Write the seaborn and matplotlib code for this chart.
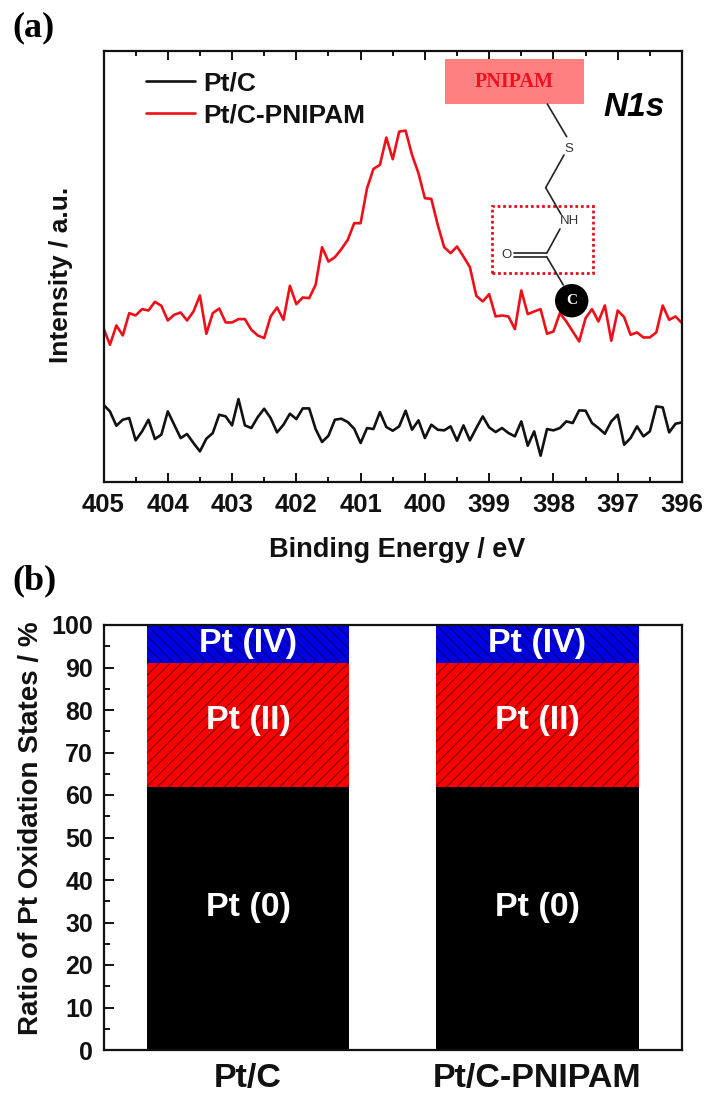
#Importing needed Libraries
import numpy as np
import pandas as pd
import matplotlib
matplotlib.use('Agg')
import matplotlib.pyplot as plt
from matplotlib.lines import Line2D
from matplotlib.patches import Rectangle, Ellipse
import seaborn as sns

#DATA
#_________________________________
energy = [round(405 - 0.1 * i, 1) for i in range(91)]

pt_c = [232, 212, 169, 187, 192, 125, 152, 187, 129, 142, 212, 172, 132, 144, 117, 92,
        130, 147, 202, 197, 170, 249, 170, 162, 195, 220, 192, 149, 172, 205, 189, 221,
        221, 159, 120, 139, 187, 190, 180, 160, 117, 162, 159, 210, 165, 154, 167, 214,
        157, 185, 132, 172, 157, 155, 167, 124, 170, 125, 162, 197, 164, 150, 162, 147,
        137, 182, 109, 152, 79, 159, 155, 162, 182, 177, 215, 214, 177, 162, 145, 182,
        202, 112, 132, 167, 137, 152, 227, 224, 149, 175, 179]

pt_c_pnipam = [462, 412, 470, 440, 507, 500, 519, 515, 541, 529, 485, 502, 509, 485, 512, 560,
               445, 507, 521, 479, 479, 489, 489, 457, 440, 432, 497, 524, 487, 589, 534, 554,
               552, 592, 705, 662, 675, 699, 727, 777, 777, 882, 940, 952, 1034, 969, 1052, 1055,
               982, 927, 852, 850, 772, 705, 687, 707, 677, 645, 559, 542, 564, 497, 500, 497,
               459, 575, 504, 512, 519, 445, 452, 507, 482, 452, 422, 492, 519, 482, 530, 424,
               515, 495, 442, 449, 434, 434, 449, 530, 487, 497, 477]

samples = ['Pt/C', 'Pt/C-PNIPAM']
pt0 = [62, 61.8]
pt2 = [29, 29.2]
pt4 = [9, 9]

W, H = 708, 1093

#FUNCTIONS
#_________________________________
def fx(x):
    return x / W

def fy(y):
    return 1 - y / H

def axes_box(left, top, right, bottom):
    return [fx(left), fy(bottom), (right - left) / W, (bottom - top) / H]

def bond(x0, y0, x1, y1, lw=1.2):
    fig.add_artist(Line2D([fx(x0), fx(x1)], [fy(y0), fy(y1)], color='#222222', lw=lw))

#FIGURE
#_________________________________
sns.set_theme(style='ticks')
plt.rcParams['font.family'] = ['Liberation Sans', 'DejaVu Sans']
plt.rcParams['font.weight'] = 'bold'
plt.rcParams['hatch.linewidth'] = 0.8

fig = plt.figure(figsize=(7.08, 10.93), dpi=100)
ax1 = fig.add_axes(axes_box(103.5, 51, 682, 482))
ax2 = fig.add_axes(axes_box(103.5, 625, 682, 1050))

#Panel a, spectra
df = pd.DataFrame({'energy': energy * 2,
                   'intensity': pt_c + pt_c_pnipam,
                   'sample': ['Pt/C'] * 91 + ['Pt/C-PNIPAM'] * 91})
sns.lineplot(data=df, x='energy', y='intensity', hue='sample', ax=ax1, lw=1.9,
             palette={'Pt/C': '#111111', 'Pt/C-PNIPAM': '#ee1018'}, errorbar=None)
ax1.set_xlim(405, 396)
ax1.set_ylim(0, 1294)
ax1.set_yticks([])
ax1.set_xticks(range(396, 406))
ax1.set_xticks(np.arange(396.5, 405, 1), minor=True)
ax1.set_xlabel('Binding Energy / eV', fontsize=19.5, fontweight='bold', color='#111111', labelpad=14, x=0.507)
ax1.set_ylabel('Intensity / a.u.', fontsize=19, fontweight='bold', color='#111111', labelpad=22, y=0.48)
handles, labels = ax1.get_legend_handles_labels()
ax1.legend(handles, labels, loc='upper left', bbox_to_anchor=(0.033, 1.008), frameon=False,
           fontsize=19, handlelength=1.85, handletextpad=0.3, labelspacing=0.3,
           labelcolor='#111111')

#Panel b, stacked oxidation states
bottom2 = np.array(pt0)
bottom4 = bottom2 + np.array(pt2)
sns.barplot(x=samples, y=pt0, color='black', saturation=1, width=0.7, ax=ax2, linewidth=0)
sns.barplot(x=samples, y=pt2, bottom=bottom2, color='#fa0000', saturation=1, width=0.7, ax=ax2,
            hatch='///', edgecolor='#800000', linewidth=0)
sns.barplot(x=samples, y=pt4, bottom=bottom4, color='#0000e0', saturation=1, width=0.7, ax=ax2,
            hatch='\\\\\\', edgecolor='#00007a', linewidth=0)
ax2.set_xlim(-0.5, 1.5)
ax2.set_ylim(0, 100)
ax2.set_yticks(range(0, 101, 10))
ax2.set_yticks(range(5, 100, 10), minor=True)
ax2.set_ylabel('Ratio of Pt Oxidation States / %', fontsize=20, fontweight='bold',
               color='#111111', labelpad=5, y=0.522)
for i in range(2):
    ax2.text(i, 95.6, 'Pt (IV)', color='white', fontsize=24.5, ha='center', va='center')
    ax2.text(i, 77.5, 'Pt (II)', color='white', fontsize=24.5, ha='center', va='center')
    ax2.text(i, 33.5, 'Pt (0)', color='white', fontsize=24.5, ha='center', va='center')

for ax in (ax1, ax2):
    sns.despine(ax=ax, top=False, right=False)
    for s in ax.spines.values():
        s.set_linewidth(1.6)
        s.set_color('#111111')

#ticks set last, after despine
ax1.tick_params(axis='x', which='major', direction='in', bottom=True, top=True, length=6.5, width=1.3,
                labelsize=18.5, pad=8, color='black', labelcolor='#111111')
ax1.tick_params(axis='x', which='minor', direction='in', bottom=True, top=True, length=3.6, width=1.3,
                color='black')
ax2.tick_params(axis='y', which='major', direction='in', length=7, width=1.3, labelsize=18,
                pad=7.5, color='black', labelcolor='#111111')
ax2.tick_params(axis='y', which='minor', direction='in', length=4, width=1.3, color='black')
ax2.tick_params(axis='x', length=0, labelsize=24.5, pad=9, labelcolor='#111111')

#Panel letters and N1s
fig.text(fx(12), fy(28), '(a)', family='Liberation Serif', fontsize=26, fontweight='bold',
         va='center', color='black')
fig.text(fx(12), fy(581), '(b)', family='Liberation Serif', fontsize=26, fontweight='bold',
         va='center', color='black')
fig.text(fx(634), fy(107), 'N1s', fontsize=24, fontweight='bold', style='italic',
         ha='center', va='center', color='black')

#Molecule sketch
fig.add_artist(Rectangle((fx(444.5), fy(104)), 139.5 / W, 45 / H, transform=fig.transFigure,
                         facecolor='#ff8080', edgecolor='none'))
fig.text(fx(514), fy(82), 'PNIPAM', family='Liberation Serif', fontsize=14.5, fontweight='bold',
         color='#f01020', ha='center', va='center')
bond(547.3, 104, 566.7, 136.7)
bond(564, 155, 545.7, 187.7)
bond(545.7, 187.7, 561, 214.3)
bond(560, 229, 546.7, 253.3)
bond(514, 253.3, 546, 253.3)
bond(514, 257.3, 546, 257.3)
bond(546.7, 256.7, 563.3, 285)
fig.text(fx(568.5), fy(148.5), 'S', fontsize=9.5, fontweight='normal', color='#333333', ha='center', va='center')
fig.text(fx(569.5), fy(221.5), 'NH', fontsize=9.5, fontweight='normal', color='#333333', ha='center', va='center')
fig.text(fx(506.5), fy(255), 'O', fontsize=9.5, fontweight='normal', color='#333333', ha='center', va='center')
fig.add_artist(Rectangle((fx(492.3), fy(272.7)), 101 / W, 67 / H, transform=fig.transFigure,
                         facecolor='none', edgecolor='#e01020', lw=2, ls=(0, (1, 1))))
fig.add_artist(Ellipse((fx(571.7), fy(300.7)), 33.4 / W, 33.4 / H, transform=fig.transFigure,
                       facecolor='black', edgecolor='none'))
fig.text(fx(571.7), fy(300.5), 'C', family='Liberation Serif', fontsize=11, fontweight='bold',
         color='white', ha='center', va='center')

plt.savefig('out.png', dpi=100)
